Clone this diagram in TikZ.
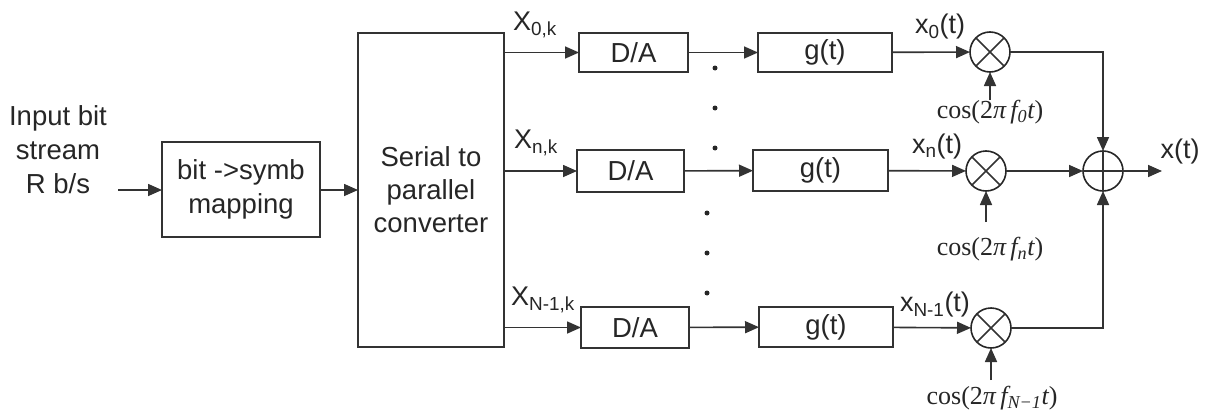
\documentclass[tikz,border=0pt]{standalone}
\usepackage{fontspec}
\setmainfont{Liberation Sans}
\newfontfamily\tms{Liberation Serif}
\usetikzlibrary{arrows.meta}
\begin{document}
\begin{tikzpicture}[x=1pt,y=-1pt,
  every node/.style={font=\fontsize{27.5}{34}\selectfont, text=black!85, inner sep=0pt, outer sep=0pt},
  blk/.style={draw=black!80, line width=1.6pt, minimum width=108pt, minimum height=40pt},
  mult/.style={draw=black!85, line width=1.6pt, circle, minimum size=40pt},
  conn/.style={draw=black!80, line width=1.6pt},
  arr/.style={conn, -{Triangle[length=14pt,width=12pt]}},
  lbl/.style={font=\fontsize{27}{30}\selectfont},
  cosl/.style={font=\tms\fontsize{26}{30}\selectfont},
  dotc/.style={fill=black!85, circle, minimum size=5pt}]
\useasboundingbox (0,0) rectangle (1206,412);

% input
\node[align=center] (in) at (58,150) {Input bit\\stream\\R b/s};
\coordinate (inS) at (118,190);
\node[blk, minimum width=158pt, minimum height=95pt, align=center] (map) at (241,189.5) {bit ->symb\\mapping};
\node[blk, minimum width=146pt, minimum height=314pt, align=center, font=\fontsize{27.5}{33}\selectfont] (ser) at (431,190) {Serial to\\parallel\\converter};
\draw[arr] (inS) -- (map.west |- inS);
\draw[arr] (map.east |- inS) -- (ser.west |- inS);

% D/A blocks
\node[blk, minimum width=109pt, minimum height=39pt] (da0) at (633.5,52.5) {D/A};
\node[blk, minimum width=107pt, minimum height=42pt] (dan) at (630.5,171) {D/A};
\node[blk, minimum width=108pt, minimum height=41pt] (daN) at (635,327.5) {D/A};
\draw[arr] (ser.east |- da0) -- (da0);
\draw[arr] (ser.east |- dan) -- (dan);
\draw[arr] (ser.east |- daN) -- (daN);
\node[lbl] (X0) at (535,25) {X\textsubscript{0,k}};
\node[lbl] (Xn) at (536,143) {X\textsubscript{n,k}};
\node[lbl] (XN) at (543,300) {X\textsubscript{N-1,k}};

% g(t) blocks
\node[blk, minimum width=134pt, minimum height=39pt] (g0) at (825,52.5) {g(t)};
\node[blk, minimum width=135pt, minimum height=41pt] (gn) at (820.5,170.5) {g(t)};
\node[blk, minimum width=134pt, minimum height=40pt] (gN) at (826,327) {g(t)};
\draw[arr] (da0) -- (g0);
\draw[arr] (dan) -- (gn);
\draw[arr] (daN) -- (gN);

% dots
\node[dotc] (d1) at (715,68) {};
\node[dotc] (d2) at (715,108) {};
\node[dotc] (d3) at (715,148) {};
\node[dotc] (d4) at (707,213) {};
\node[dotc] (d5) at (707,253) {};
\node[dotc] (d6) at (707,293) {};

% multipliers
\node[mult] (m0) at (990,52) {};
\node[mult] (mn) at (986,171) {};
\node[mult] (mN) at (991,328) {};
\foreach \m in {m0,mn,mN}{
  \draw[conn] (\m.north east) -- (\m.south west);
  \draw[conn] (\m.north west) -- (\m.south east);
}
\draw[arr] (g0) -- (m0);
\draw[arr] (gn) -- (mn);
\draw[arr] (gN) -- (mN);
\node[lbl] (x0) at (940,27) {x\textsubscript{0}(t)};
\node[lbl] (xn) at (937,147) {x\textsubscript{n}(t)};
\node[lbl] (xN) at (935,305) {x\textsubscript{N-1}(t)};

% carriers
\node[cosl] (c0) at (990,112) {cos(2{\itshape π\,f}\textsubscript{\itshape 0}{\itshape t})};
\node[cosl] (cn) at (990,249) {cos(2{\itshape π\,f}\textsubscript{\itshape n}{\itshape t})};
\node[cosl] (cN) at (992,398) {cos(2{\itshape π\,f}\textsubscript{\itshape N−1}{\itshape t})};
\coordinate (c0s) at (990,100);
\coordinate (cns) at (986,222);
\coordinate (cNs) at (991,380);
\draw[arr] (c0s) -- (m0);
\draw[arr] (cns) -- (mn);
\draw[arr] (cNs) -- (mN);

% summer
\node[mult] (sum) at (1103,171) {};
\draw[conn] (sum.north) -- (sum.south);
\draw[conn] (sum.west) -- (sum.east);
\coordinate (t0) at (1103,52);
\coordinate (tN) at (1103,328);
\draw[arr] (m0) -- (t0) -- (sum);
\draw[arr] (mn) -- (sum);
\draw[arr] (mN) -- (tN) -- (sum);
\coordinate (out) at (1162,171);
\draw[arr] (sum) -- (out);
\node[lbl] (xt) at (1180,152) {x(t)};
\end{tikzpicture}
\end{document}
